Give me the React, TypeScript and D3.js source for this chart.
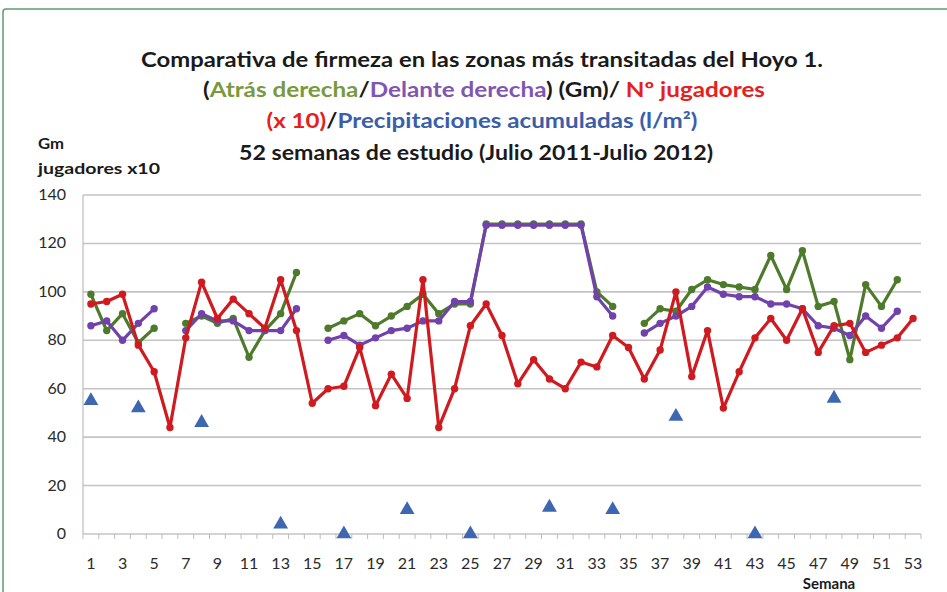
import React from "react";
import * as d3 from "d3";

const weeks: number[] = Array.from({ length: 53 }, (_, i) => i + 1);
const xTickLabels: number[] = weeks.filter((w) => w % 2 === 1);
const yTicks: number[] = [0, 20, 40, 60, 80, 100, 120, 140];

const jugadores: (number | null)[] = [
  95, 96, 99, 78, 67, 44, 81, 104, 89, 97,
  91, 85, 105, 84, 54, 60, 61, 77, 53, 66,
  56, 105, 44, 60, 86, 95, 82, 62, 72, 64,
  60, 71, 69, 82, 77, 64, 76, 100, 65, 84,
  52, 67, 81, 89, 80, 93, 75, 86, 87, 75,
  78, 81, 89,
];

const atrasDerecha: (number | null)[] = [
  99, 84, 91, 79, 85, null, 87, 90, 87, 89,
  73, 84, 91, 108, null, 85, 88, 91, 86, 90,
  94, 99, 91, 95, 95, 128, 128, 128, 128, 128,
  128, 128, 100, 94, null, 87, 93, 92, 101, 105,
  103, 102, 101, 115, 101, 117, 94, 96, 72, 103,
  94, 105, null,
];

const delanteDerecha: (number | null)[] = [
  86, 88, 80, 87, 93, null, 84, 91, 88, 88,
  84, 84, 84, 93, null, 80, 82, 78, 81, 84,
  85, 88, 88, 96, 96, 127.5, 127.5, 127.5, 127.5, 127.5,
  127.5, 127.5, 98, 90, null, 83, 87, 90, 94, 102,
  99, 98, 98, 95, 95, 93, 86, 85, 82, 90,
  85, 92, null,
];

const precipitaciones: (number | null)[] = [
  55, null, null, 52, null, null, null, 46, null, null,
  null, null, 4, null, null, null, 0, null, null, null,
  10, null, null, null, 0, null, null, null, null, 11,
  null, null, null, 10, null, null, null, 48.5, null, null,
  null, null, 0, null, null, null, null, 56, null, null,
  null, null, null,
];

const W = 947;
const H = 592;
const M = { left: 83, right: 921, top: 195, bottom: 534 };

const C_GREEN = "#4d7b2b";
const C_PURPLE = "#7142ab";
const C_RED = "#cf1a20";
const C_BLUE = "#3d67b0";
const FONT = "Lato, 'Open Sans', 'DejaVu Sans', sans-serif";

export default function App() {
  const x = d3.scaleBand<number>().domain(weeks).range([M.left, M.right]).padding(0);
  const cx = (w: number) => (x(w) as number) + x.bandwidth() / 2;
  const y = d3.scaleLinear().domain([0, 140]).range([M.bottom, M.top]);

  const lineGen = d3
    .line<{ w: number; v: number | null }>()
    .defined((d) => d.v != null)
    .x((d) => cx(d.w))
    .y((d) => y(d.v as number));

  const toPts = (arr: (number | null)[]) => arr.map((v, i) => ({ w: weeks[i], v }));

  const series = [
    { data: atrasDerecha, color: C_GREEN },
    { data: delanteDerecha, color: C_PURPLE },
    { data: jugadores, color: C_RED },
  ];

  const tri = d3.symbol().type(d3.symbolTriangle).size(95)() as string;
  const boundaries = weeks.map((w) => x(w) as number).concat([M.right]);

  return (
    <svg
      width={W}
      height={H}
      style={{ position: "absolute", left: 0, top: 0, background: "#fff" }}
      fontFamily={FONT}
    >
      <rect x={0} y={0} width={W} height={H} fill="#fff" />
      {/* frame */}
      <path d={`M3,${H + 5} L3,12 Q3,9 6,9 L${W + 5},9`} fill="none" stroke="#5d9b74" strokeWidth={1.5} />

      {/* titles */}
      <g fontWeight="bold" fontSize={20} textAnchor="middle" fill="#1a1a1a">
        <text x={482} y={67} textLength={682} lengthAdjust="spacingAndGlyphs">
          Comparativa de firmeza en las zonas más transitadas del Hoyo 1.
        </text>
        <text x={484} y={97} textLength={562} lengthAdjust="spacingAndGlyphs">
          <tspan>(</tspan>
          <tspan fill="#78993d">Atrás derecha</tspan>
          <tspan>/</tspan>
          <tspan fill="#8057b0">Delante derecha</tspan>
          <tspan>) (Gm)/ </tspan>
          <tspan fill="#e5211d">Nº jugadores</tspan>
        </text>
        <text x={482} y={128} textLength={431} lengthAdjust="spacingAndGlyphs">
          <tspan fill="#e5211d">(x 10)</tspan>
          <tspan>/</tspan>
          <tspan fill="#3a5ea8">Precipitaciones acumuladas (l/m²)</tspan>
        </text>
        <text x={476} y={160} textLength={474} lengthAdjust="spacingAndGlyphs">
          52 semanas de estudio (Julio 2011-Julio 2012)
        </text>
      </g>

      {/* y axis title */}
      <g fontWeight="bold" fontSize={16} fill="#1a1a1a">
        <text x={38} y={149} textLength={26} lengthAdjust="spacingAndGlyphs">Gm</text>
        <text x={38} y={174} textLength={122} lengthAdjust="spacingAndGlyphs">jugadores x10</text>
      </g>

      {/* grid */}
      {yTicks.map((t) => (
        <line key={t} x1={M.left} x2={M.right} y1={y(t)} y2={y(t)} stroke="#c4c4c4" strokeWidth={1.6} />
      ))}
      <line x1={M.left} x2={M.left} y1={M.top} y2={M.bottom} stroke="#bdbdbd" strokeWidth={1.2} />
      {boundaries.map((b, i) => (
        <line key={i} x1={b} x2={b} y1={M.bottom} y2={M.bottom + 5} stroke="#bdbdbd" strokeWidth={1} />
      ))}

      {/* y tick labels */}
      <g fontSize={16} fill="#2a2a2a" textAnchor="end">
        {yTicks.map((t) => (
          <text key={t} x={66} y={y(t) + 5}>{t}</text>
        ))}
      </g>
      {/* x tick labels */}
      <g fontSize={16} fill="#2a2a2a" textAnchor="middle">
        {xTickLabels.map((w) => (
          <text key={w} x={cx(w)} y={569}>{w}</text>
        ))}
      </g>
      <text x={829} y={589} fontSize={15} fontWeight="bold" textAnchor="middle" fill="#1a1a1a">Semana</text>

      {/* lines */}
      {series.map((s, si) => (
        <g key={si}>
          <path d={lineGen(toPts(s.data)) as string} fill="none" stroke={s.color} strokeWidth={3.2} strokeLinejoin="round" />
          {toPts(s.data)
            .filter((d) => d.v != null)
            .map((d) => (
              <circle key={d.w} cx={cx(d.w)} cy={y(d.v as number)} r={3.7} fill={s.color} />
            ))}
        </g>
      ))}

      {/* precipitation triangles */}
      {toPts(precipitaciones)
        .filter((d) => d.v != null)
        .map((d) => (
          <path key={d.w} d={tri} transform={`translate(${cx(d.w)},${y(d.v as number)})`} fill={C_BLUE} />
        ))}
    </svg>
  );
}
